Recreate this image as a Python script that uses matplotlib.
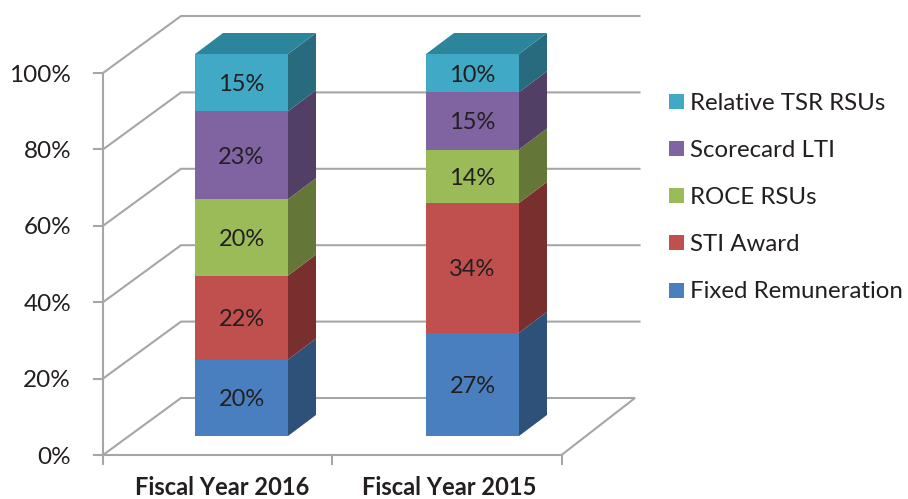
import matplotlib
matplotlib.use('Agg')
import matplotlib.pyplot as plt
from matplotlib.patches import Polygon

years = ['Fiscal Year 2016', 'Fiscal Year 2015']
components = ['Fixed Remuneration', 'STI Award', 'ROCE RSUs', 'Scorecard LTI', 'Relative TSR RSUs']
fy2016 = [20, 22, 20, 23, 15]
fy2015 = [27, 34, 14, 15, 10]
y_ticks = [0, 20, 40, 60, 80, 100]

front_colors = ['#4a7fbf', '#c0504d', '#9bbb59', '#8064a2', '#3fa9c6']
side_colors = ['#2d5179', '#7a2f2f', '#647738', '#513f66', '#286b7e']
top_color = '#2c869b'
grid_color = '#a6a6a6'
text_color = '#231f20'

plt.rcParams['font.family'] = ['Lato', 'DejaVu Sans']

fig = plt.figure(figsize=(9.08, 4.99), dpi=100)
ax = fig.add_axes([0, 0, 1, 1])

# one x unit = the gap between the two bars, one y unit = 1%
px_x = 231.0
px_y = 3.82
ax.set_xlim(-241.5 / px_x, (908 - 241.5) / px_x)
ax.set_ylim((436 - 499) / px_y, 436 / px_y)
ax.axis('off')

bar_w = 93 / px_x
bar_dx, bar_dy = 28 / px_x, 21 / px_y
axis_x = -138.5 / px_x
axis_y0 = -19 / px_y
wall_dx, wall_dy = 78 / px_x, 57 / px_y
axis_end = axis_x + 458.5 / px_x
floor_dx = wall_dx - 4.5 / px_x
label_shift = 2 / px_y


def grid_y(v):
    return axis_y0 + v


# walls and floor
for v in y_ticks[1:]:
    y = grid_y(v)
    ax.plot([axis_x, axis_x + wall_dx, axis_end + wall_dx], [y, y + wall_dy, y + wall_dy],
            color=grid_color, lw=1.5, zorder=1, solid_joinstyle='miter')
floor = [(axis_x, grid_y(0)), (axis_x + wall_dx, grid_y(0) + wall_dy),
         (axis_end + floor_dx, grid_y(0) + wall_dy), (axis_end, grid_y(0))]
ax.plot(*zip(*floor), color=grid_color, lw=1.5, zorder=1, solid_joinstyle='miter')
ax.plot([axis_x, axis_x], [grid_y(0), grid_y(100)], color=grid_color, lw=1.5, zorder=1)
ax.plot([axis_x, axis_end], [grid_y(0), grid_y(0)], color=grid_color, lw=1.5, zorder=1)

# tick marks
for v in y_ticks:
    ax.plot([axis_x - 9 / px_x, axis_x], [grid_y(v), grid_y(v)], color=grid_color, lw=1.5, zorder=1)
    ax.text(axis_x - 32 / px_x, grid_y(v) - label_shift, f'{v}%', ha='right', va='center',
            fontsize=17.5, color=text_color)
for x in [axis_x, axis_x + (axis_end - axis_x) / 2, axis_end]:
    ax.plot([x, x], [grid_y(0), grid_y(0) - 9 / px_y], color=grid_color, lw=1.5, zorder=1)

# stacked bars
for i, (name, vals) in enumerate(zip(years, [fy2016, fy2015])):
    x0, x1 = i - bar_w / 2, i + bar_w / 2
    base = 0
    for j, v in enumerate(vals):
        top = base + v
        ax.add_patch(Polygon([(x0, base), (x1, base), (x1, top), (x0, top)], fc=front_colors[j], ec='none', zorder=3))
        ax.add_patch(Polygon([(x1, base), (x1 + bar_dx, base + bar_dy), (x1 + bar_dx, top + bar_dy), (x1, top)],
                             fc=side_colors[j], ec='none', zorder=3))
        ax.text(i, base + v / 2 - label_shift, f'{v}%', ha='center', va='center', fontsize=17,
                color=text_color, zorder=4)
        base = top
    ax.add_patch(Polygon([(x0, base), (x1, base), (x1 + bar_dx, base + bar_dy), (x0 + bar_dx, base + bar_dy)],
                         fc=top_color, ec='none', zorder=3))
    ax.text(i - (19.5 if i == 0 else 23.5) / px_x, grid_y(0) - 32.5 / px_y, name, ha='center', va='center',
            fontsize=17, fontweight='bold', color=text_color)

# legend, drawn by hand so it sits like the original
for j, label in enumerate(components):
    ly = (146 + j * 47.2) / px_y
    ax.add_patch(Polygon([(427.5 / px_x, ly - 7.5 / px_y), (442.5 / px_x, ly - 7.5 / px_y),
                          (442.5 / px_x, ly + 7.5 / px_y), (427.5 / px_x, ly + 7.5 / px_y)],
                         fc=front_colors[j], ec='none', zorder=3))
    ax.text(448 / px_x, ly - label_shift, label, ha='left', va='center', fontsize=17.3, color=text_color)

fig.savefig('out.png', dpi=100)
